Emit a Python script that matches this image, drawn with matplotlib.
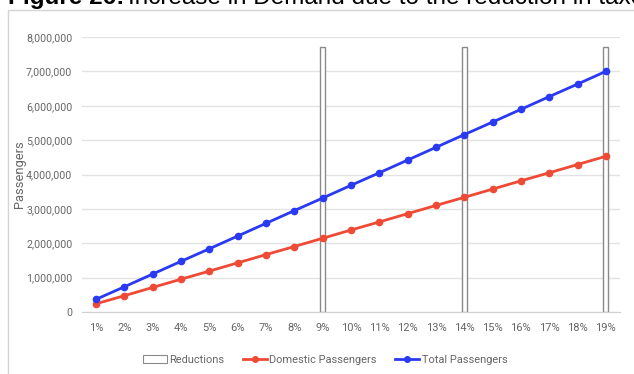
import numpy as np
import matplotlib
matplotlib.use("Agg")
import matplotlib.pyplot as plt
from matplotlib.patches import Rectangle, Patch
from matplotlib.lines import Line2D
from matplotlib.ticker import FuncFormatter, MultipleLocator

categories = [f"{i}%" for i in range(1, 20)]
domestic = [240000, 475000, 715000, 955000, 1190000, 1430000, 1670000, 1905000,
            2145000, 2385000, 2620000, 2860000, 3100000, 3335000, 3575000,
            3815000, 4050000, 4290000, 4530000]
total = [370000, 735000, 1105000, 1475000, 1840000, 2210000, 2580000, 2950000,
         3315000, 3685000, 4050000, 4420000, 4790000, 5160000, 5525000,
         5895000, 6265000, 6630000, 7000000]
reductions = [np.nan] * 8 + [7700000] + [np.nan] * 4 + [7700000] + [np.nan] * 4 + [7700000]

BLUE = "#2a3af2"
RED = "#ee4a36"
TXT = "#666666"

plt.rcParams["font.family"] = ["Roboto", "DejaVu Sans"]

W, H = 634, 374
fig = plt.figure(figsize=(W / 100, H / 100), dpi=100)

# outer chart frame
fig.patches.append(Rectangle((8 / W, -0.1), 1.0, 1.1 - 10 / H,
                             transform=fig.transFigure, fill=False,
                             edgecolor="#d4d4d4", linewidth=1.0))

# caption: bold label followed by regular text on the same baseline
cap_font = ["Liberation Sans", "DejaVu Sans"]
t1 = fig.text(8 / W, 1 - 4 / H, "Figure 26:", fontsize=17.5, fontweight="bold",
              family=cap_font, va="baseline", ha="left")
renderer = fig.canvas.get_renderer()
bb = t1.get_window_extent(renderer=renderer)
fig.text((bb.x1 + 4) / W, 1 - 4 / H,
         "Increase in Demand due to the reduction in taxes",
         fontsize=17.5, family=cap_font, va="baseline", ha="left")

ax = fig.add_axes([82 / W, 1 - 312 / H, 538 / W, (312 - 37) / H])
x = np.arange(len(categories))

ax.bar(x, reductions, width=0.18, facecolor="white", edgecolor="#8a8a8a",
       linewidth=1.0, zorder=2)
ax.plot(x, domestic, color=RED, linewidth=2.0, marker="o", markersize=4.5, zorder=3)
ax.plot(x, total, color=BLUE, linewidth=2.0, marker="o", markersize=4.5, zorder=3)

ax.set_xlim(-0.5, len(categories) - 0.5)
ax.set_ylim(0, 8000000)
ax.yaxis.set_major_locator(MultipleLocator(1000000))
ax.yaxis.set_major_formatter(FuncFormatter(lambda v, p: f"{int(v):,}"))
ax.set_xticks(x)
ax.set_xticklabels(categories)

ax.grid(axis="y", color="#e3e3e3", linewidth=1.0, zorder=0)
ax.set_axisbelow(True)
for s in ["top", "right", "left"]:
    ax.spines[s].set_visible(False)
ax.spines["bottom"].set_color("#d0d0d0")
ax.tick_params(axis="both", length=0, labelcolor=TXT)
ax.tick_params(axis="y", pad=7, labelsize=7.7)
ax.tick_params(axis="x", pad=8, labelsize=8)
ax.set_ylabel("Passengers", fontsize=9.3, color=TXT)
ax.yaxis.set_label_coords((26 - 82) / 538, 0.5)

handles = [
    Patch(facecolor="white", edgecolor="#8a8a8a", linewidth=0.8, label="Reductions"),
    Line2D([], [], color=RED, linewidth=2.0, marker="o", markersize=4,
           label="Domestic Passengers"),
    Line2D([], [], color=BLUE, linewidth=2.0, marker="o", markersize=4,
           label="Total Passengers"),
]
fig.legend(handles=handles, loc="center", bbox_to_anchor=(325 / W, 1 - 360 / H),
           ncol=3, frameon=False, fontsize=7.9, labelcolor=TXT,
           handlelength=2.2, handletextpad=0.2, columnspacing=1.7,
           handleheight=0.7)

fig.savefig("out.png", dpi=100)
